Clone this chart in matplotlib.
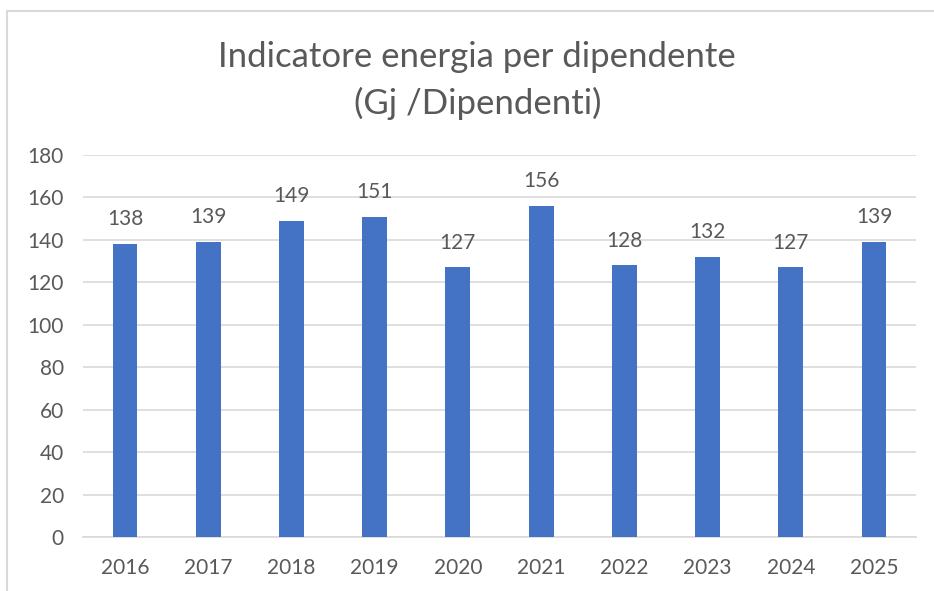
import matplotlib.pyplot as plt
from matplotlib.patches import Rectangle

years = ['2016', '2017', '2018', '2019', '2020', '2021', '2022', '2023', '2024', '2025']
values = [138, 139, 149, 151, 127, 156, 128, 132, 127, 139]

plt.rcParams['font.family'] = ['Lato', 'DejaVu Sans']
grey = '#595959'

fig = plt.figure(figsize=(9.34, 5.91), dpi=100)

# light chart border (Excel-like), runs off the right and bottom edges
fig.patches.append(Rectangle((7 / 934, -0.05), 1.0, 1 - 11 / 591 + 0.05,
                             transform=fig.transFigure, fill=False,
                             edgecolor='#d9d9d9', linewidth=1.5))

ax = fig.add_axes([0.0893, 0.0914, 0.8910, 0.6463])
x = range(len(years))
bars = ax.bar(x, values, width=0.3, color='#4472C4', zorder=3)

for xi, v in zip(x, values):
    ax.text(xi, v + 7, str(v), ha='center', va='bottom', fontsize=15, color=grey)

ax.set_ylim(0, 180)
ax.set_xlim(-0.5, len(years) - 0.5)
ax.set_yticks(range(0, 181, 20))
ax.set_xticks(list(x))
ax.set_xticklabels(years)
ax.tick_params(axis='both', length=0, labelsize=15, labelcolor=grey)
ax.tick_params(axis='y', pad=14)
ax.tick_params(axis='x', pad=15)
ax.grid(axis='y', color='#d9d9d9', linewidth=1.2, zorder=0)
for s in ['top', 'right', 'left']:
    ax.spines[s].set_visible(False)
ax.spines['bottom'].set_color('#d9d9d9')
ax.spines['bottom'].set_linewidth(1.2)

fig.text(0.511, 0.903, 'Indicatore energia per dipendente', ha='center', va='center',
         fontsize=25, color=grey)
fig.text(0.511, 0.825, '(Gj /Dipendenti)', ha='center', va='center',
         fontsize=25, color=grey)

fig.savefig('out.png', dpi=100)
